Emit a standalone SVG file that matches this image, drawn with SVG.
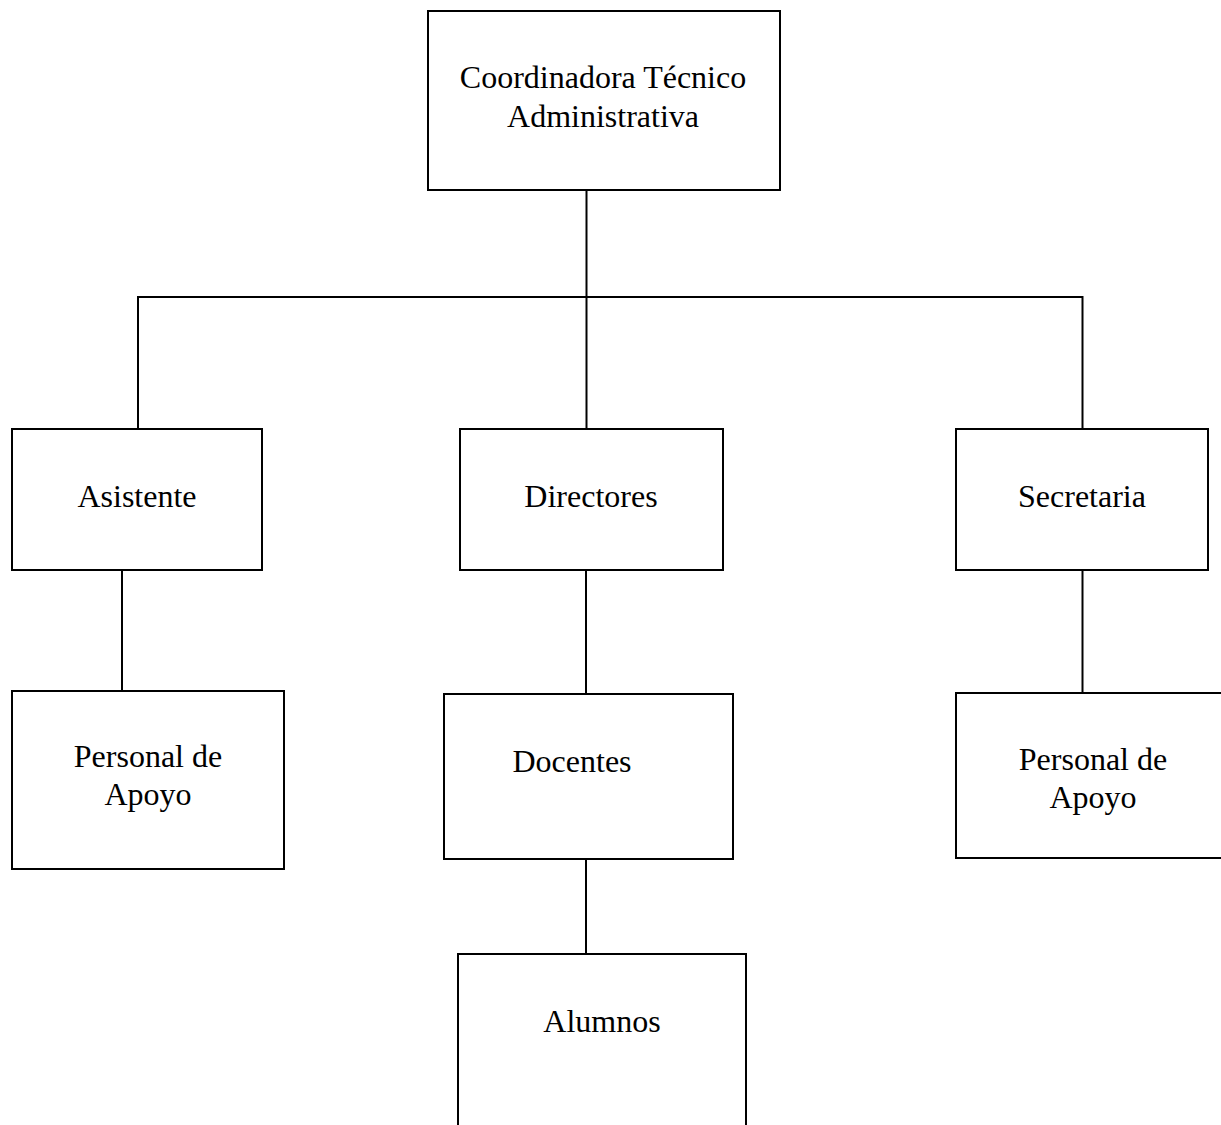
<svg xmlns="http://www.w3.org/2000/svg" width="1221" height="1125" viewBox="0 0 1221 1125">
<style>
.box{fill:#fff;stroke:#000;stroke-width:2}
.ln{fill:none;stroke:#000;stroke-width:2}
text{font-family:"Liberation Serif","Times New Roman",serif;font-size:32px;fill:#000;text-anchor:middle}
</style>
<rect width="1221" height="1125" fill="#fff"/>
<g id="connectors">
<path class="ln" d="M586.5 190 V429"/>
<path class="ln" d="M138 429 V297 H1082.5 V429"/>
<path class="ln" d="M122 571 V691"/>
<path class="ln" d="M586 571 V694"/>
<path class="ln" d="M586 859 V954"/>
<path class="ln" d="M1082.5 571 V693"/>
</g>
<g id="coordinadora">
<rect class="box" x="428" y="11" width="352" height="179"/>
<text x="603" y="88">Coordinadora Técnico</text>
<text x="603" y="127">Administrativa</text>
</g>
<g id="asistente">
<rect class="box" x="12" y="429" width="250" height="141"/>
<text x="137" y="507">Asistente</text>
</g>
<g id="directores">
<rect class="box" x="460" y="429" width="263" height="141"/>
<text x="591" y="507">Directores</text>
</g>
<g id="secretaria">
<rect class="box" x="956" y="429" width="252" height="141"/>
<text x="1082" y="507">Secretaria</text>
</g>
<g id="personal-apoyo-1">
<rect class="box" x="12" y="691" width="272" height="178"/>
<text x="148" y="767">Personal de</text>
<text x="148" y="805">Apoyo</text>
</g>
<g id="docentes">
<rect class="box" x="444" y="694" width="289" height="165"/>
<text x="572" y="772">Docentes</text>
</g>
<g id="personal-apoyo-2">
<path class="box" d="M1225 693 H956 V858 H1225"/>
<text x="1093" y="770">Personal de</text>
<text x="1093" y="808">Apoyo</text>
</g>
<g id="alumnos">
<path class="box" d="M458 1130 V954 H746 V1130"/>
<text x="602" y="1032">Alumnos</text>
</g>
</svg>
